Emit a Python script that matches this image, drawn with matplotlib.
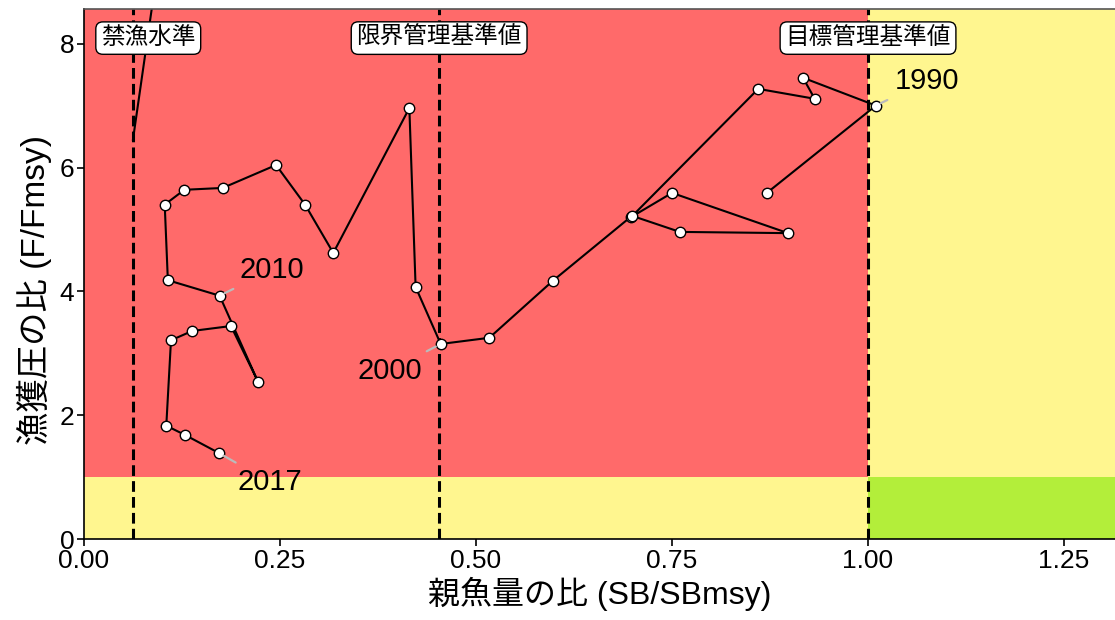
import matplotlib
matplotlib.use("Agg")
import matplotlib.pyplot as plt

plt.rcParams['font.family'] = ['Liberation Sans', 'Noto Sans CJK JP']

# stock trajectory (SB/SBmsy, F/Fmsy), oldest first
sb_ratio = [0.871, 1.010, 0.917, 0.932, 0.860, 0.698, 0.750, 0.898, 0.760, 0.699,
            0.598, 0.517, 0.455, 0.423, 0.415, 0.318, 0.282, 0.245, 0.177, 0.128,
            0.103, 0.107, 0.173, 0.222, 0.1875, 0.138, 0.111, 0.105, 0.129, 0.172]
f_ratio = [5.59, 7.00, 7.45, 7.11, 7.27, 5.20, 5.59, 4.94, 4.96, 5.22,
           4.17, 3.25, 3.15, 4.07, 6.96, 4.62, 5.40, 6.04, 5.67, 5.64,
           5.40, 4.18, 3.93, 2.54, 3.44, 3.36, 3.21, 1.83, 1.68, 1.39]

# labelled years: index into the trajectory and where the text sits
year_labels = ["1990", "2000", "2010", "2017"]
year_index = [1, 12, 22, 29]
year_text_x = [1.034, 0.431, 0.199, 0.196]
year_text_y = [7.40, 2.72, 4.35, 0.92]
year_ha = ["left", "right", "left", "left"]

# reference points (SB/SBmsy)
ref_names = ["禁漁水準", "限界管理基準値", "目標管理基準値"]
ref_values = [0.0625, 0.453, 1.0]
ref_label_x = [0.082, 0.453, 1.0]

# steep line leaving the ban level
ban_line_x = [0.0625, 0.088]
ban_line_y = [6.45, 8.70]

xmax, ymax = 1.315, 8.56

fig = plt.figure(figsize=(11.15, 6.2), dpi=100)
ax = fig.add_axes([0.0753, 0.1306, 0.9247, 0.8549])

# background zones split at SBmsy = 1 and Fmsy = 1
ax.axvspan(0, 1, ymin=1 / ymax, ymax=1, color="#FF6A6A", lw=0, zorder=0)
ax.axvspan(0, 1, ymin=0, ymax=1 / ymax, color="#FFF68F", lw=0, zorder=0)
ax.axvspan(1, xmax, ymin=1 / ymax, ymax=1, color="#FFF68F", lw=0, zorder=0)
ax.axvspan(1, xmax, ymin=0, ymax=1 / ymax, color="#B3EE3A", lw=0, zorder=0)

for v in ref_values:
    ax.axvline(v, color="black", lw=2.2, ls=(0, (3.5, 1.7)), zorder=1)

ax.plot(ban_line_x, ban_line_y, color="black", lw=1.5, zorder=2)
ax.plot(sb_ratio, f_ratio, color="black", lw=1.5, marker="o", ms=7.5,
        mfc="white", mec="black", mew=1.0, zorder=3)

for lab, i, tx, ty, ha in zip(year_labels, year_index, year_text_x, year_text_y, year_ha):
    ax.annotate(lab, xy=(sb_ratio[i], f_ratio[i]), xytext=(tx, ty),
                ha=ha, va="center", fontsize=21, zorder=4,
                arrowprops=dict(arrowstyle="-", color="#BBBBBB", lw=1.6,
                                shrinkA=4, shrinkB=4))

for name, lx in zip(ref_names, ref_label_x):
    ax.text(lx, 8.09, name, ha="center", va="center", fontsize=17, zorder=5,
            bbox=dict(boxstyle="round,pad=0.22,rounding_size=0.3",
                      fc="white", ec="black", lw=1.0))

ax.set_xlim(0, xmax)
ax.set_ylim(0, ymax)
ax.set_xticks([0, 0.25, 0.5, 0.75, 1.0, 1.25])
ax.set_xticklabels(["0.00", "0.25", "0.50", "0.75", "1.00", "1.25"])
ax.set_yticks([0, 2, 4, 6, 8])
ax.tick_params(labelsize=19, length=5, width=1.2, color="black", pad=2)
ax.spines["right"].set_visible(False)
for s in ["left", "bottom", "top"]:
    ax.spines[s].set_linewidth(1.2)
ax.spines["top"].set_color("#555555")

ax.set_xlabel("親魚量の比 (SB/SBmsy)", fontsize=23, labelpad=3)
ax.set_ylabel("漁獲圧の比 (F/Fmsy)", fontsize=24)
ax.yaxis.set_label_coords(-0.031, 0.47)

fig.savefig("out.png", dpi=100)
